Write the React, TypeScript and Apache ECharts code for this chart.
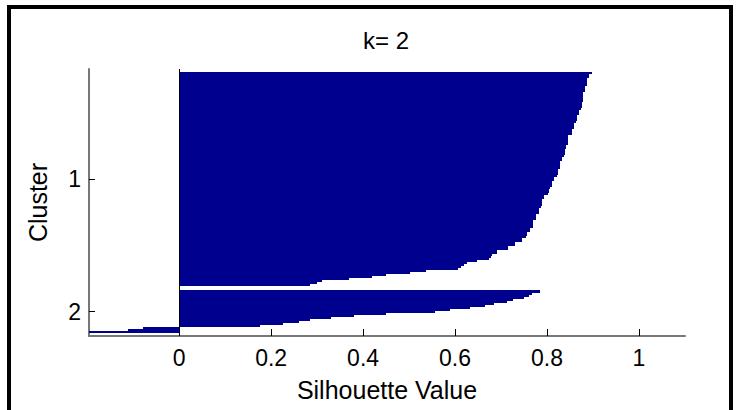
import { useEffect, useRef } from "react";
import * as echarts from "echarts";

// Silhouette values of each cluster, sorted from largest to smallest
const clusterNames = ["1", "2"];
const cluster1Values = [
  0.897, 0.892, 0.892, 0.887, 0.887, 0.887, 0.887, 0.883, 0.883, 0.883,
  0.879, 0.879, 0.879, 0.879, 0.879, 0.875, 0.875, 0.875, 0.874, 0.87,
  0.87, 0.865, 0.865, 0.865, 0.864, 0.859, 0.859, 0.858, 0.855, 0.855,
  0.854, 0.846, 0.846, 0.846, 0.845, 0.845, 0.842, 0.842, 0.838, 0.838,
  0.838, 0.837, 0.833, 0.833, 0.829, 0.829, 0.829, 0.828, 0.823, 0.823,
  0.823, 0.822, 0.816, 0.816, 0.81, 0.81, 0.81, 0.806, 0.804, 0.804,
  0.803, 0.794, 0.794, 0.788, 0.788, 0.788, 0.787, 0.782, 0.782, 0.782,
  0.777, 0.777, 0.777, 0.77, 0.77, 0.77, 0.769, 0.764, 0.764, 0.757,
  0.757, 0.755, 0.746, 0.746, 0.731, 0.731, 0.715, 0.715, 0.691, 0.691,
  0.68, 0.678, 0.674, 0.647, 0.626, 0.62, 0.613, 0.607, 0.537, 0.502,
  0.45, 0.42, 0.37, 0.31, 0.3, 0.285,
];
const cluster2Values = [
  0.784, 0.767, 0.761, 0.749, 0.727, 0.713, 0.685, 0.666, 0.633, 0.59,
  0.557, 0.45, 0.38, 0.33, 0.285, 0.26, 0.225, 0.176, -0.078, -0.112, -0.196,
];
const xTickValues = [0, 0.2, 0.4, 0.6, 0.8, 1];
const xMax = 1.1;
const titleText = "k= 2";
const xAxisTitle = "Silhouette Value";
const yAxisTitle = "Cluster";

const FONT = "'Liberation Sans', Arial, Helvetica, sans-serif";
const BAR_COLOR = "#00008F";

export default function App() {
  const ref = useRef<HTMLDivElement>(null);

  useEffect(() => {
    if (!ref.current) return;
    const chart = echarts.init(ref.current, null, { renderer: "svg" });

    // Lay the bars out one per row, with empty rows around each cluster
    const clusters = [cluster1Values, cluster2Values];
    const n = clusters.reduce((s, c) => s + c.length, 0);
    const space = Math.max(Math.floor(0.02 * n), 2);
    const rows: [number, number][] = [];
    const tickPositions: number[] = [];
    let pos = space;
    clusters.forEach((vals) => {
      const first = pos + 1;
      vals.forEach((v) => {
        pos += 1;
        rows.push([v, pos]);
      });
      tickPositions.push((first + pos) / 2);
      pos += space;
    });
    const totalRows = pos;
    const allValues = clusters.flat();
    const xMin = Math.min(-0.1, ...allValues);

    chart.setOption({
      animation: false,
      backgroundColor: "#ffffff",
      grid: { left: 89, right: 53, top: 69, bottom: 74 },
      graphic: [
        {
          type: "polyline",
          shape: { points: [[9, 410], [9, 7], [731, 7], [731, 410]] },
          style: { stroke: "#000", lineWidth: 4, fill: "none" },
          silent: true,
        },
        {
          type: "text",
          x: 386,
          y: 40,
          style: {
            text: titleText,
            font: `24px ${FONT}`,
            fill: "#000",
            textAlign: "center",
            textVerticalAlign: "middle",
          },
        },
      ],
      xAxis: {
        type: "value",
        min: xMin,
        max: xMax,
        name: xAxisTitle,
        nameLocation: "middle",
        nameGap: 41,
        nameTextStyle: { fontSize: 25, fontFamily: FONT, color: "#000" },
        axisLine: { show: true, onZero: false, lineStyle: { color: "#777", width: 2 } },
        axisTick: {
          show: true,
          inside: true,
          length: 7,
          customValues: xTickValues,
          lineStyle: { color: "#000", width: 1 },
        },
        axisLabel: {
          customValues: xTickValues,
          margin: 10,
          fontSize: 23,
          fontFamily: FONT,
          color: "#000",
          formatter: (v: number) => String(Math.round(v * 10) / 10),
        },
        splitLine: { show: false },
      },
      yAxis: {
        type: "value",
        min: 1,
        max: totalRows,
        inverse: true,
        name: yAxisTitle,
        nameLocation: "middle",
        nameGap: 39,
        nameTextStyle: { fontSize: 25, fontFamily: FONT, color: "#000" },
        axisLine: { show: true, onZero: false, lineStyle: { color: "#777", width: 2 } },
        axisTick: {
          show: true,
          inside: true,
          length: 6,
          customValues: tickPositions,
          lineStyle: { color: "#000", width: 1 },
        },
        axisLabel: {
          customValues: tickPositions,
          margin: 8,
          fontSize: 23,
          fontFamily: FONT,
          color: "#000",
          formatter: (v: number) => {
            const i = tickPositions.indexOf(v);
            return i >= 0 ? clusterNames[i] : "";
          },
        },
        splitLine: { show: false },
      },
      series: [
        {
          type: "custom",
          data: rows,
          encode: { x: 0, y: 1 },
          renderItem: (_params: any, api: any) => {
            const v = api.value(0);
            const p = api.value(1);
            const a = api.coord([0, p - 0.5]);
            const b = api.coord([v, p + 0.5]);
            // snap to whole pixels so neighbouring rows join without seams
            const x0 = Math.round(Math.min(a[0], b[0]));
            const x1 = Math.round(Math.max(a[0], b[0]));
            const y0 = Math.round(Math.min(a[1], b[1]));
            const y1 = Math.round(Math.max(a[1], b[1]));
            return {
              type: "rect",
              shape: { x: x0, y: y0, width: x1 - x0, height: Math.max(y1 - y0, 1) },
              style: { fill: BAR_COLOR },
            };
          },
          markLine: {
            silent: true,
            symbol: ["none", "none"],
            label: { show: false },
            lineStyle: { color: "#000", width: 1, type: "solid" },
            data: [{ xAxis: 0 }],
          },
        },
      ],
    });

    return () => chart.dispose();
  }, []);

  return (
    <div
      ref={ref}
      style={{ position: "fixed", left: 0, top: 0, width: 738, height: 410 }}
    />
  );
}
